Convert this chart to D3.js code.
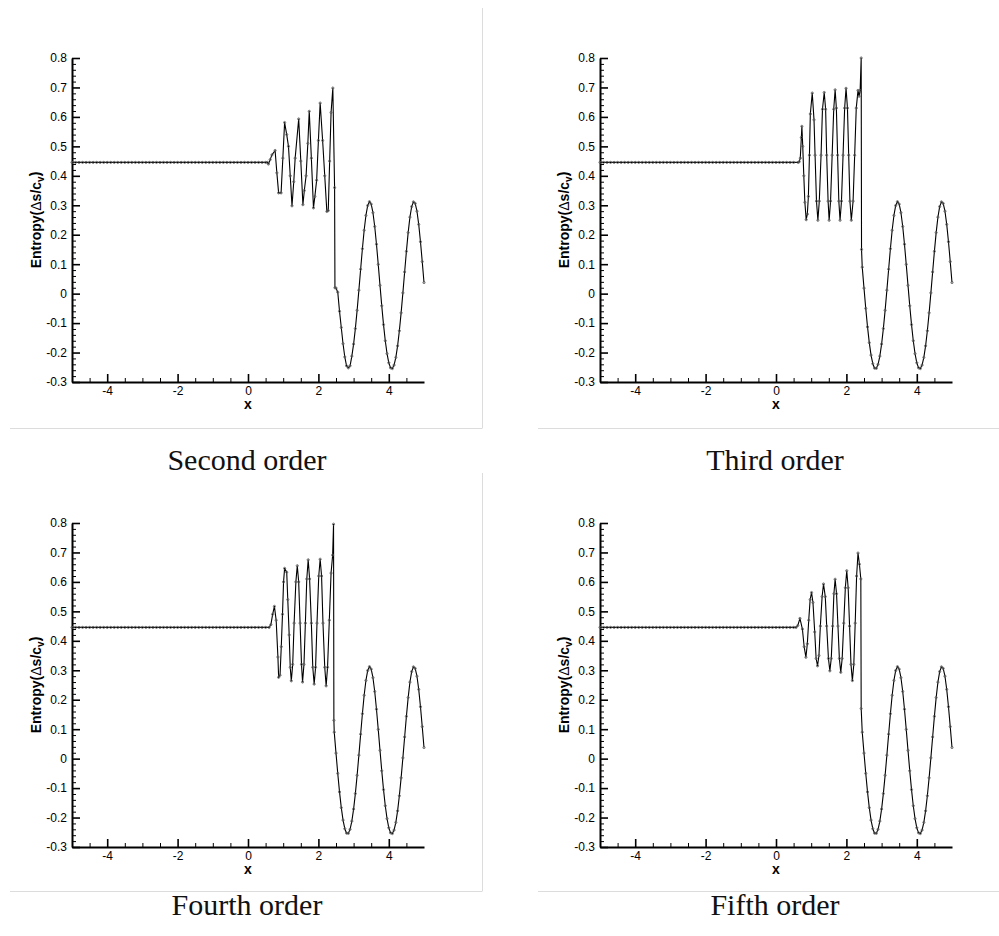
<!DOCTYPE html>
<html>
<head>
<meta charset="utf-8">
<script src="https://cdn.jsdelivr.net/npm/d3@7"></script>
<style>
  html, body { margin: 0; padding: 0; background: #fff; }
  svg { display: block; }
</style>
</head>
<body>
<svg id="chart" width="999" height="936"></svg>
<script>
// ---------------- DATA ----------------
const orders = ["Second order", "Third order", "Fourth order", "Fifth order"];

const xTicks = [-4, -2, 0, 2, 4];
const xMinorTicks = [-4.5, -3.5, -3, -2.5, -1.5, -1, -0.5, 0.5, 1, 1.5, 2.5, 3, 3.5, 4.5];
const yTicks = [-0.3, -0.2, -0.1, 0, 0.1, 0.2, 0.3, 0.4, 0.5, 0.6, 0.7, 0.8];

// uniform upstream (left) state
const flatX = [-5.0, -4.9, -4.8, -4.7, -4.6, -4.5, -4.4, -4.3, -4.2, -4.1, -4.0, -3.9, -3.8, -3.7, -3.6, -3.5,
  -3.4, -3.3, -3.2, -3.1, -3.0, -2.9, -2.8, -2.7, -2.6, -2.5, -2.4, -2.3, -2.2, -2.1, -2.0, -1.9, -1.8,
  -1.7, -1.6, -1.5, -1.4, -1.3, -1.2, -1.1, -1.0, -0.9, -0.8, -0.7, -0.6, -0.5, -0.4, -0.3, -0.2, -0.1,
  0.0, 0.1, 0.2, 0.3, 0.4, 0.5];
const flatEntropy = 0.4455;

// oscillatory region + shock, per order
const secondX = [0.55, 0.58, 0.63, 0.68, 0.77, 0.82, 0.87, 0.94, 0.99, 1.04, 1.10, 1.15, 1.20, 1.25, 1.30, 1.34,
  1.44, 1.50, 1.56, 1.60, 1.65, 1.70, 1.74, 1.80, 1.86, 1.90, 1.95, 2.00, 2.05, 2.12, 2.18, 2.24, 2.28,
  2.32, 2.36, 2.41, 2.46, 2.47, 2.50, 2.55, 2.60, 2.65, 2.70, 2.75, 2.80, 2.85, 2.90];
const secondS = [0.4455, 0.440, 0.455, 0.471, 0.486, 0.41, 0.342, 0.342, 0.46, 0.581, 0.54, 0.50, 0.40, 0.298, 0.38, 0.46,
  0.593, 0.45, 0.302, 0.35, 0.40, 0.51, 0.619, 0.46, 0.291, 0.33, 0.385, 0.52, 0.647, 0.52, 0.40, 0.279, 0.282,
  0.45, 0.615, 0.698, 0.36, 0.02, 0.019, 0.005, -0.06, -0.115, -0.17, -0.215, -0.245, -0.252, -0.245];

const thirdX = [0.63, 0.66, 0.69, 0.72, 0.735, 0.76, 0.79, 0.82, 0.858, 0.89, 0.92, 0.95, 0.975, 1.03, 1.08,
  1.11, 1.15, 1.19, 1.23, 1.28, 1.32, 1.37, 1.41, 1.44, 1.48, 1.51, 1.55, 1.595, 1.64, 1.68, 1.715, 1.75,
  1.785, 1.82, 1.86, 1.905, 1.95, 1.99, 2.03, 2.065, 2.10, 2.14, 2.19, 2.235, 2.28, 2.33, 2.36, 2.39, 2.42, 2.43];
const thirdS = [0.4455, 0.448, 0.46, 0.53, 0.568, 0.50, 0.40, 0.31, 0.251, 0.27, 0.33, 0.47, 0.61, 0.681, 0.59,
  0.47, 0.314, 0.249, 0.314, 0.47, 0.626, 0.683, 0.626, 0.47, 0.314, 0.249, 0.314, 0.47, 0.626, 0.692, 0.63, 0.47,
  0.314, 0.249, 0.314, 0.47, 0.63, 0.697, 0.63, 0.47, 0.314, 0.249, 0.314, 0.47, 0.63, 0.69, 0.67, 0.69, 0.80, 0.15];

const fourthX = [0.60, 0.65, 0.70, 0.75, 0.80, 0.85, 0.87, 0.91, 0.945, 0.98, 1.01, 1.04, 1.10, 1.13, 1.17,
  1.20, 1.23, 1.27, 1.31, 1.36, 1.40, 1.44, 1.48, 1.52, 1.55, 1.59, 1.63, 1.67, 1.71, 1.75, 1.80, 1.84,
  1.88, 1.92, 1.96, 2.01, 2.05, 2.09, 2.13, 2.18, 2.22, 2.26, 2.31, 2.36, 2.405, 2.43, 2.44];
const fourthS = [0.4455, 0.455, 0.49, 0.517, 0.47, 0.345, 0.276, 0.283, 0.38, 0.49, 0.60, 0.646, 0.633, 0.54, 0.42,
  0.31, 0.264, 0.32, 0.46, 0.60, 0.655, 0.60, 0.46, 0.32, 0.26, 0.32, 0.46, 0.61, 0.675, 0.61, 0.46, 0.31,
  0.253, 0.31, 0.46, 0.62, 0.677, 0.62, 0.46, 0.31, 0.247, 0.31, 0.47, 0.63, 0.691, 0.796, 0.13];

const fifthX = [0.57, 0.62, 0.68, 0.75, 0.80, 0.85, 0.89, 0.93, 0.97, 1.01, 1.05, 1.10, 1.14, 1.18, 1.22,
  1.26, 1.31, 1.35, 1.40, 1.44, 1.49, 1.53, 1.57, 1.61, 1.645, 1.68, 1.72, 1.76, 1.80, 1.84, 1.88, 1.925,
  1.97, 2.01, 2.05, 2.09, 2.13, 2.17, 2.21, 2.25, 2.29, 2.33, 2.37, 2.41, 2.42];
const fifthS = [0.4455, 0.452, 0.476, 0.44, 0.38, 0.344, 0.39, 0.47, 0.54, 0.564, 0.53, 0.43, 0.34, 0.315, 0.35,
  0.45, 0.55, 0.593, 0.55, 0.45, 0.34, 0.298, 0.34, 0.45, 0.56, 0.609, 0.56, 0.45, 0.34, 0.293, 0.34, 0.46,
  0.58, 0.638, 0.58, 0.45, 0.32, 0.265, 0.32, 0.46, 0.62, 0.698, 0.66, 0.61, 0.17];

// downstream (pre-shock) entropy wave, common to all orders
const downX = [2.45, 2.50, 2.55, 2.60, 2.65, 2.70, 2.75, 2.80, 2.85, 2.90, 2.95, 3.00, 3.05, 3.10, 3.15, 3.20,
  3.25, 3.30, 3.35, 3.40, 3.45, 3.50, 3.55, 3.60, 3.65, 3.70, 3.75, 3.80, 3.85, 3.90, 3.95, 4.00, 4.05,
  4.10, 4.15, 4.20, 4.25, 4.30, 4.35, 4.40, 4.45, 4.50, 4.55, 4.60, 4.65, 4.70, 4.75, 4.80, 4.85, 4.90,
  4.95, 5.00];
const downS = [0.0899, 0.0187, -0.0502, -0.1130, -0.1665, -0.2087, -0.2379, -0.2531, -0.2537, -0.2400, -0.2121,
  -0.1712, -0.1186, -0.0567, 0.0118, 0.0830, 0.1525, 0.2150, 0.2654, 0.2990, 0.3123, 0.3039, 0.2748, 0.2279,
  0.1677, 0.0993, 0.0281, -0.0414, -0.1051, -0.1600, -0.2038, -0.2348, -0.2519, -0.2545, -0.2426, -0.2166,
  -0.1773, -0.1262, -0.0653, 0.0025, 0.0736, 0.1435, 0.2073, 0.2597, 0.2956, 0.3117, 0.3062, 0.2798, 0.2350,
  0.1762, 0.1087, 0.0376];

// ---------------- LAYOUT ----------------
const PW = 352, PH = 324;
const layout = [
  { x0: 72,  y0: 58,  capY: 470, frame: "left",  fy: 428, vTop: 8 },
  { x0: 600, y0: 58,  capY: 470, frame: "right", fy: 428 },
  { x0: 72,  y0: 523, capY: 915, frame: "left",  fy: 891, vTop: 473 },
  { x0: 600, y0: 523, capY: 915, frame: "right", fy: 891 }
];
const oscData = [[secondX, secondS], [thirdX, thirdS], [fourthX, fourthS], [fifthX, fifthS]];

const svg = d3.select("#chart");
const sans = "'Liberation Sans', Arial, Helvetica, sans-serif";

// frame lines
layout.forEach(L => {
  if (L.frame === "left") {
    svg.append("line").attr("x1", 482.5).attr("x2", 482.5).attr("y1", L.vTop).attr("y2", L.fy)
      .attr("stroke", "#dcdcdc").attr("stroke-width", 1);
    svg.append("line").attr("x1", 10).attr("x2", 482.5).attr("y1", L.fy + 0.5).attr("y2", L.fy + 0.5)
      .attr("stroke", "#dcdcdc").attr("stroke-width", 1);
  } else {
    svg.append("line").attr("x1", 538).attr("x2", 999).attr("y1", L.fy + 0.5).attr("y2", L.fy + 0.5)
      .attr("stroke", "#dcdcdc").attr("stroke-width", 1);
  }
});

const x = d3.scaleLinear().domain([-5, 5]).range([0, PW]);
const y = d3.scaleLinear().domain([-0.3, 0.8]).range([PH, 0]);
const fmtY = d => { const v = Math.round(d * 10) / 10; return v === 0 ? "0" : v.toFixed(1); };
const yMinor = [];
for (let i = -15; i <= 40; i++) { if (i % 5 !== 0) yMinor.push(i / 50); }

orders.forEach((name, k) => {
  const L = layout[k];
  const g = svg.append("g").attr("transform", `translate(${L.x0},${L.y0})`);

  // series assembly
  const [ox, os] = oscData[k];
  const pts = [];
  flatX.forEach(v => { if (v < ox[0]) pts.push([v, flatEntropy]); });
  ox.forEach((v, i) => pts.push([v, os[i]]));
  const last = ox[ox.length - 1];
  downX.forEach((v, i) => { if (v > last) pts.push([v, downS[i]]); });

  // minor ticks
  g.append("g").attr("transform", `translate(0,${PH})`)
    .call(d3.axisBottom(x).tickValues(xMinorTicks).tickSize(-4).tickFormat(""))
    .call(a => a.select(".domain").remove())
    .call(a => a.selectAll("line").attr("stroke", "#000").attr("stroke-width", 1));
  g.append("g")
    .call(d3.axisLeft(y).tickValues(yMinor).tickSize(-4).tickFormat(""))
    .call(a => a.select(".domain").remove())
    .call(a => a.selectAll("line").attr("stroke", "#000").attr("stroke-width", 1));

  // major axes
  const ax = g.append("g").attr("transform", `translate(0,${PH})`)
    .call(d3.axisBottom(x).tickValues(xTicks).tickSizeInner(-8).tickSizeOuter(0).tickPadding(4)
      .tickFormat(d => String(d)));
  const ay = g.append("g")
    .call(d3.axisLeft(y).tickValues(yTicks).tickSizeInner(-8).tickSizeOuter(0).tickPadding(5)
      .tickFormat(fmtY));
  [ax, ay].forEach(a => {
    a.attr("font-family", sans).attr("font-size", 12);
    a.select(".domain").attr("stroke", "#000").attr("stroke-width", 2);
    a.selectAll(".tick line").attr("stroke", "#000").attr("stroke-width", 1.6);
    a.selectAll(".tick text").attr("fill", "#000");
  });

  // line
  const line = d3.line().x(d => x(d[0])).y(d => y(d[1]));
  g.append("path").datum(pts).attr("d", line)
    .attr("fill", "none").attr("stroke", "#000").attr("stroke-width", 1.1).attr("stroke-linejoin", "round");
  g.append("g").selectAll("circle").data(pts).join("circle")
    .attr("cx", d => x(d[0])).attr("cy", d => y(d[1])).attr("r", 1.1)
    .attr("fill", "none").attr("stroke", "#555").attr("stroke-width", 0.8);

  // axis titles
  g.append("text").attr("x", PW / 2).attr("y", PH + 27).attr("text-anchor", "middle")
    .attr("font-family", sans).attr("font-weight", "bold").attr("font-size", 14).text("x");
  const yl = g.append("text").attr("transform", `translate(-31,${PH / 2}) rotate(-90)`)
    .attr("text-anchor", "middle").attr("font-family", sans).attr("font-weight", "bold").attr("font-size", 14);
  yl.append("tspan").text("Entropy(");
  yl.append("tspan").attr("font-weight", "normal").text("\u0394");
  yl.append("tspan").text("s/c");
  yl.append("tspan").attr("font-size", 10).attr("dy", "0.3em").text("v");
  yl.append("tspan").attr("dy", "-0.3em").text(")");

  // caption
  svg.append("text").attr("x", L.x0 + 175).attr("y", L.capY).attr("text-anchor", "middle")
    .attr("font-family", "'Liberation Serif', 'Times New Roman', serif").attr("font-size", 30)
    .attr("fill", "#111").text(name);
});
</script>
</body>
</html>
